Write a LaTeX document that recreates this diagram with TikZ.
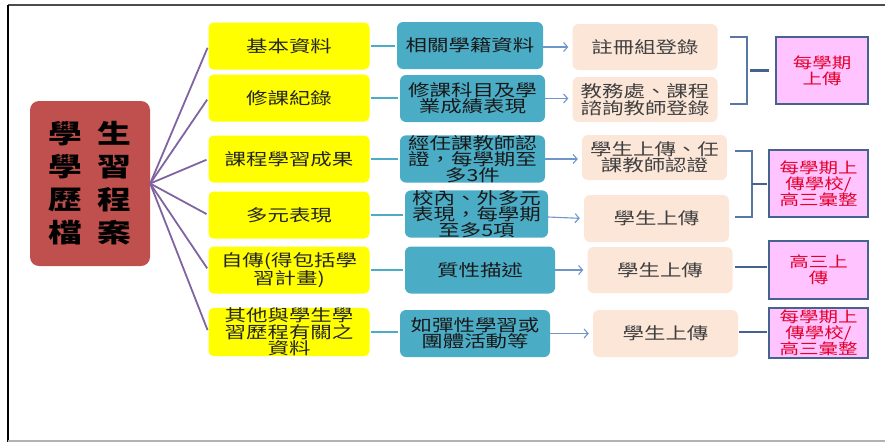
\documentclass[tikz,border=0pt]{standalone}
\usepackage{fontspec}
\setmainfont[FakeStretch=1.3]{Noto Sans CJK TC}
\usetikzlibrary{arrows.meta}

\definecolor{rootred}{HTML}{C0504D}
\definecolor{spokeviolet}{HTML}{8064A2}
\definecolor{topicyellow}{HTML}{FFFF00}
\definecolor{detailblue}{HTML}{4BACC6}
\definecolor{arrowblue}{HTML}{6F96C8}
\definecolor{peach}{HTML}{FCE6D8}
\definecolor{bracketblue}{HTML}{5877A3}
\definecolor{pinkfill}{HTML}{FFC3FF}
\definecolor{pinkline}{HTML}{46638F}
\definecolor{pinktext}{HTML}{E3002B}

\tikzset{
	topic/.style={fill=topicyellow, rounded corners=5pt, minimum width=161pt, minimum height=47pt,
		inner sep=0pt, align=center, text=black!85, font=\fontsize{16.5}{16.5}\selectfont},
	detail/.style={fill=detailblue, rounded corners=6pt, minimum height=47pt,
		inner sep=0pt, align=center, text=black!90, font=\fontsize{16.5}{16}\selectfont},
	record/.style={fill=peach, rounded corners=6pt, minimum width=145pt, minimum height=46pt,
		inner sep=0pt, align=center, text=black!75, font=\fontsize{16.5}{16.5}\selectfont},
	upload/.style={fill=pinkfill, draw=pinkline, line width=2pt, minimum width=99pt,
		inner sep=0pt, align=center, text=pinktext, font=\fontsize{15}{16}\selectfont},
	spoke/.style={draw=spokeviolet, line width=1.8pt, shorten >=2pt},
	link/.style={draw=detailblue, line width=2pt, shorten <=1pt, shorten >=2pt},
	pass/.style={draw=arrowblue, line width=1.1pt, shorten >=4pt,
		-{Straight Barb[length=4pt,width=9pt]}},
	brace/.style={draw=bracketblue, line width=1.3pt},
	stub/.style={draw=pinkline, line width=2.2pt}
}

\begin{document}
\begin{tikzpicture}[x=1pt, y=-1pt]

	\useasboundingbox (0,0) rectangle (885,442);

	% frame
	\draw[line width=2pt, black!70] (8,5) -- (885,5);
	\draw[line width=2.5pt, black] (8,5) -- (8,442);
	\draw[line width=1.5pt, black!30] (8,441) -- (885,441);

	% root
	\node[fill=rootred, rounded corners=9pt, minimum width=120pt, minimum height=165pt,
		inner sep=0pt, align=center, font=\fontsize{26}{33}\selectfont\bfseries] (root) at (90,183.5)
		{學\hspace{16pt}生\\學\hspace{16pt}習\\歷\hspace{16pt}程\\檔\hspace{16pt}案};

	% topics
	\node[topic] (t1) at (289,46) {基本資料};
	\node[topic] (t2) at (289,98) {修課紀錄};
	\node[topic] (t3) at (289,159) {課程學習成果};
	\node[topic] (t4) at (289,215) {多元表現};
	\node[topic] (t5) at (289,270) {自傳(得包括學\\習計畫)};
	\node[topic] (t6) at (289,332) {其他與學生學\\習歷程有關之\\資料};

	% details
	\node[detail, minimum width=146pt] (d1) at (470,45.5) {相關學籍資料};
	\node[detail, minimum width=145pt] (d2) at (472.5,98.5) {修課科目及學\\業成績表現};
	\node[detail, minimum width=145pt] (d3) at (472.5,159) {經任課教師認\\證，每學期至\\多3件};
	\node[detail, minimum width=143pt] (d4) at (476.5,214) {校內、外多元\\表現，每學期\\至多5項};
	\node[detail, minimum width=150pt] (d5) at (480,270) {質性描述};
	\node[detail, minimum width=150pt] (d6) at (475,333.5) {如彈性學習或\\團體活動等};

	% records
	\node[record] (p1) at (645,47) {註冊組登錄};
	\node[record, minimum height=45pt] (p2) at (645,99.5) {教務處、課程\\諮詢教師登錄};
	\node[record, minimum height=45pt] (p3) at (654.5,157.5) {學生上傳、任\\課教師認證};
	\node[record, minimum height=47pt] (p4) at (656.5,218.5) {學生上傳};
	\node[record] (p5) at (660,270) {學生上傳};
	\node[record, minimum height=47pt] (p6) at (665.5,333.5) {學生上傳};

	% uploads
	\node[upload, minimum width=92pt, minimum height=67pt] (u1) at (822,70.5) {每學期\\上傳};
	\node[upload, minimum height=67pt] (u2) at (818.5,183.5) {每學期上\\傳學校/\\高三彙整};
	\node[upload, minimum height=58pt] (u3) at (818.5,270) {高三上\\傳};
	\node[upload, minimum height=50pt] (u4) at (818.5,333) {每學期上\\傳學校/\\高三彙整};

	% root to topics
	\draw[spoke] (root.east) -- (t1.west);
	\draw[spoke] (root.east) -- (t2.west);
	\draw[spoke] (root.east) -- (t3.west);
	\draw[spoke] (root.east) -- (t4.west);
	\draw[spoke] (root.east) -- (t5.west);
	\draw[spoke] (root.east) -- (t6.west);

	% topics to details
	\draw[link] (t1.east) -- (t1.east -| d1.west);
	\draw[link] (t2.east) -- (t2.east -| d2.west);
	\draw[link] (t3.east) -- (t3.east -| d3.west);
	\draw[link] (t4.east) -- (t4.east -| d4.west);
	\draw[link] (t5.east) -- (t5.east -| d5.west);
	\draw[link] (t6.east) -- (t6.east -| d6.west);

	% details to records
	\draw[pass] (d1.east) ++(0,1.5) -- (p1.west);
	\draw[pass] (d2.east) -- (d2.east -| p2.west);
	\draw[pass] (d3.east) -- (d3.east -| p3.west);
	\draw[pass] (d4.east) ++(0,3) -- (p4.west);
	\draw[pass] (d5.east) -- (d5.east -| p5.west);
	\draw[pass] (d6.east) -- (d6.east -| p6.west);

	% brackets
	\coordinate (b1) at (747,70.5);
	\coordinate (b2) at (752,184);
	\draw[brace] (b1) ++(-17,-33.5) -- ++(17,0) -- ++(0,67) -- ++(-17,0);
	\draw[brace] (b2) ++(-17,-33) -- ++(17,0) -- ++(0,66) -- ++(-17,0);
	\draw[stub, shorten <=3pt, shorten >=6pt] (b1) -- (b1 -| u1.west);
	\draw[stub, shorten >=1pt] (b2) -- (b2 -| u2.west);
	\draw[stub, shorten <=2pt, shorten >=1pt] (p5.east) ++(0,-3) -- (u3.west |- 0,267);
	\draw[stub, shorten <=1pt, shorten >=1pt] (p6.east) ++(0,-1.5) -- (u4.west |- 0,332);

\end{tikzpicture}
\end{document}
